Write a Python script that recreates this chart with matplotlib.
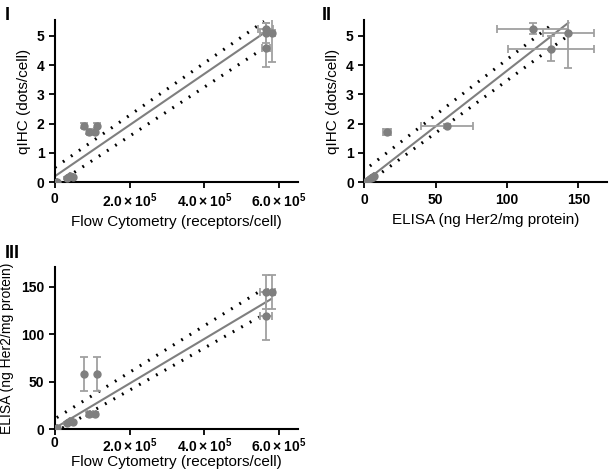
import numpy as np
import matplotlib.pyplot as plt
from matplotlib.ticker import FuncFormatter

plt.rcParams['font.family'] = ['Liberation Sans', 'DejaVu Sans']
plt.rcParams['mathtext.fontset'] = 'custom'
plt.rcParams['mathtext.rm'] = 'Liberation Sans'
plt.rcParams['mathtext.bf'] = 'Liberation Sans:bold'

# Panel I: flow cytometry vs qIHC
flow_1 = [5e3, 3.2e4, 4e4, 4.8e4, 7.7e4, 9.1e4, 1.07e5, 1.12e5, 5.65e5, 5.8e5, 5.65e5, 5.65e5]
qihc_1 = [0.02, 0.15, 0.2, 0.17, 1.93, 1.72, 1.72, 1.93, 5.25, 5.1, 5.1, 4.6]
flow_1_err = [0, 0, 0, 0, 4e3, 4e3, 4e3, 4e3, 2e4, 1e4, 1.5e4, 1e4]
qihc_1_err = [0, 0.03, 0.03, 0.03, 0.08, 0.08, 0.08, 0.08, 0.2, 1.0, 0.35, 0.65]
fit_1_x = [0, 5.62e5]
fit_1_y = [0.2, 5.12]
upper_1_x = [0, 5.6e5]
upper_1_y = [0.5, 5.5]
lower_1_x = [3e4, 5.65e5]
lower_1_y = [0.15, 4.63]

# Panel II: ELISA vs qIHC
elisa_2 = [1, 2, 5, 7, 6, 16, 58, 118, 143, 131]
qihc_2 = [0.0, 0.05, 0.15, 0.2, 0.17, 1.72, 1.93, 5.25, 5.1, 4.57]
elisa_2_err = [0, 0, 0, 0, 0, 3, 18, 25, 18, 30]
qihc_2_err = [0, 0, 0.03, 0.03, 0.03, 0.1, 0.07, 0.2, 1.2, 0.42]
fit_2_x = [0, 143]
fit_2_y = [0.0, 5.45]
upper_2_x = [4, 132]
upper_2_y = [0.55, 5.41]
lower_2_x = [12.6, 140.6]
lower_2_y = [0.34, 4.93]

# Panel III: flow cytometry vs ELISA
flow_3 = [5e3, 3.2e4, 4e4, 4.8e4, 7.7e4, 9.1e4, 1.07e5, 1.12e5, 5.65e5, 5.8e5, 5.65e5]
elisa_3 = [1, 6, 8, 7, 58, 16, 16, 58, 144, 144, 119]
flow_3_err = [0, 0, 0, 0, 0, 4e3, 4e3, 0, 1.5e4, 1e4, 1.5e4]
elisa_3_err = [0, 1, 1, 1, 18, 2, 2, 18, 18, 18, 25]
fit_3_x = [0, 5.79e5]
fit_3_y = [1, 137]
upper_3_x = [5e3, 5.6e5]
upper_3_y = [12, 148]
lower_3_x = [2e4, 5.47e5]
lower_3_y = [1, 118]

flow_ticks = [0, 2e5, 4e5, 6e5]


def flow_fmt(v, pos):
    if v == 0:
        return r'$\mathbf{0}$'
    return r'$\mathbf{%.1f\times10^5}$' % (v / 1e5)


def draw(ax, x, y, xerr, yerr, fx, fy, ux, uy, lx, ly):
    ax.errorbar(x, y, xerr=xerr, yerr=yerr, fmt='o', color='#7f7f7f',
                ecolor='#a0a0a0', elinewidth=1.3, capsize=3, capthick=1.3,
                markersize=5, zorder=3)
    ax.plot(fx, fy, color='#7f7f7f', lw=1.5, zorder=2)
    ax.plot(ux, uy, color='black', lw=2.2, linestyle=(0, (0.6, 2.6)), zorder=2)
    ax.plot(lx, ly, color='black', lw=2.2, linestyle=(0, (0.6, 2.6)), zorder=2)
    for s in ['top', 'right']:
        ax.spines[s].set_visible(False)
    for s in ['left', 'bottom']:
        ax.spines[s].set_linewidth(1.5)
    ax.tick_params(width=1.3, length=4, labelsize=10)


fig = plt.figure(figsize=(6.1, 4.73), dpi=100)

ax1 = fig.add_axes([0.090, 0.615, 0.398, 0.343])
draw(ax1, flow_1, qihc_1, flow_1_err, qihc_1_err, fit_1_x, fit_1_y,
     upper_1_x, upper_1_y, lower_1_x, lower_1_y)
ax1.set_xlim(0, 6.5e5)
ax1.set_ylim(0, 5.55)
ax1.set_xticks(flow_ticks)
ax1.xaxis.set_major_formatter(FuncFormatter(flow_fmt))
ax1.set_yticks(range(6))
ax1.tick_params(axis='x', pad=3)
ax1.set_xlabel('Flow Cytometry (receptors/cell)', fontsize=11, labelpad=3)
ax1.set_ylabel('qIHC (dots/cell)', fontsize=11)
for lab in ax1.get_yticklabels():
    lab.set_fontweight('bold')

ax2 = fig.add_axes([0.597, 0.615, 0.398, 0.343])
draw(ax2, elisa_2, qihc_2, elisa_2_err, qihc_2_err, fit_2_x, fit_2_y,
     upper_2_x, upper_2_y, lower_2_x, lower_2_y)
ax2.set_xlim(0, 170)
ax2.set_ylim(0, 5.55)
ax2.set_xticks([0, 50, 100, 150])
ax2.set_yticks(range(6))
ax2.set_xlabel('ELISA (ng Her2/mg protein)', fontsize=11, labelpad=5)
ax2.set_ylabel('qIHC (dots/cell)', fontsize=11)
for lab in ax2.get_yticklabels() + ax2.get_xticklabels():
    lab.set_fontweight('bold')

ax3 = fig.add_axes([0.090, 0.093, 0.398, 0.343])
draw(ax3, flow_3, elisa_3, flow_3_err, elisa_3_err, fit_3_x, fit_3_y,
     upper_3_x, upper_3_y, lower_3_x, lower_3_y)
ax3.set_xlim(0, 6.5e5)
ax3.set_ylim(0, 171)
ax3.set_xticks(flow_ticks)
ax3.xaxis.set_major_formatter(FuncFormatter(flow_fmt))
ax3.set_yticks([0, 50, 100, 150])
ax3.tick_params(axis='x', pad=1)
ax3.set_xlabel('Flow Cytometry (receptors/cell)', fontsize=11, labelpad=0)
ax3.set_ylabel('ELISA (ng Her2/mg protein)', fontsize=10, labelpad=5)
for lab in ax3.get_yticklabels():
    lab.set_fontweight('bold')

fig.text(0.008, 0.985, 'I', fontsize=13, fontweight='bold', va='top')
fig.text(0.528, 0.985, 'II', fontsize=13, fontweight='bold', va='top')
fig.text(0.008, 0.482, 'III', fontsize=13, fontweight='bold', va='top')

plt.savefig('out.png', dpi=100)
